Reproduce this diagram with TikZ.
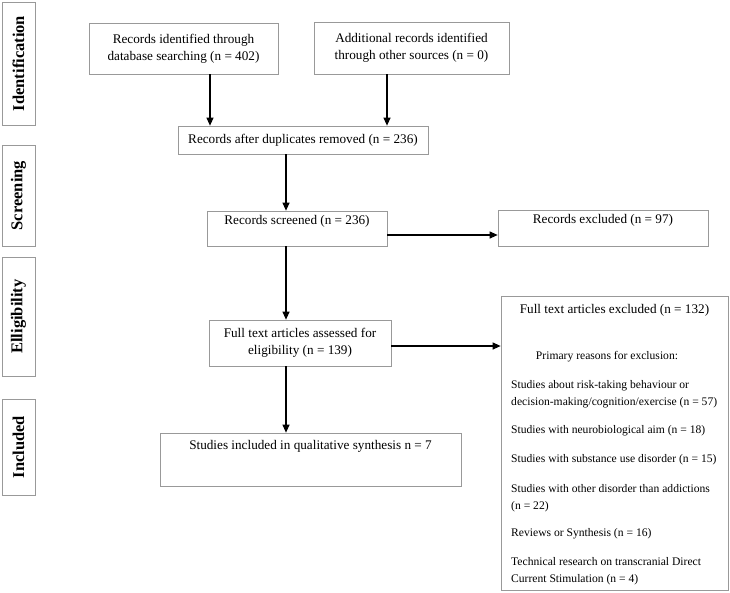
\documentclass[tikz,border=0pt]{standalone}
\usepackage{fontspec}
\setmainfont{Liberation Serif}
\usetikzlibrary{arrows.meta}

\begin{document}
\begin{tikzpicture}[x=1pt,y=-1pt,
  box/.style={draw=gray!80,line width=0.7pt,inner sep=4pt,align=center,font=\fontsize{13.2}{17}\selectfont},
  phase/.style={draw=gray!80,line width=0.7pt,minimum width=33pt,inner sep=0pt},
  phasetext/.style={rotate=90,font=\bfseries\fontsize{16.5}{16.5}\selectfont},
  reason/.style={anchor=west,inner sep=0pt,font=\fontsize{11.6}{17}\selectfont},
  arr/.style={-{Triangle[length=8pt,width=7pt]},line width=1.1pt}]
\useasboundingbox (0,0) rectangle (730,592);

% phases on the left
\node[phase,minimum height=123pt] (ident) at (18.5,63.5) {};
\node[phasetext] (identtxt) at (ident) {Identification};
\node[phase,minimum height=101pt] (screen) at (18.5,195.5) {};
\node[phasetext] (screentxt) at (screen) {Screening};
\node[phase,minimum height=119pt] (elig) at (18.5,316.5) {};
\node[phasetext] (eligtxt) at (elig) {Elligibility};
\node[phase,minimum height=96pt] (incl) at (18.5,447) {};
\node[phasetext] (incltxt) at (incl) {Included};

% main boxes
\node[box,minimum width=189pt,minimum height=51pt] (rec1) at (183.5,48.5) {Records identified through\\database searching (n = 402)};
\node[box,minimum width=195pt,minimum height=52pt] (rec2) at (411.5,48) {Additional records identified\\through other sources (n = 0)};
\node[box,minimum width=250pt,minimum height=28pt] (dup) at (303,140) {Records after duplicates removed (n = 236)};
\node[box,minimum width=180pt,text height=9pt,text depth=18pt] (scr) at (297,228.5) {Records screened (n = 236)};
\node[box,minimum width=210pt,text height=9pt,text depth=19pt] (excl1) at (603,228) {Records excluded (n = 97)};
\node[box,minimum width=182pt,minimum height=46pt] (full) at (300,343) {Full text articles assessed for\\eligibility (n = 139)};
\node[box,minimum width=301pt,text height=12pt,text depth=33pt] (studies) at (310.5,459.5) {Studies included in qualitative synthesis n = 7};
\node[box,minimum width=227pt,minimum height=294pt] (excl2) at (614.5,443) {};

% reasons for exclusion
\node[reason,anchor=center,font=\fontsize{13.2}{17}\selectfont] (r0) at (614.5,310) {Full text articles excluded (n = 132)};
\node[reason,anchor=center] (r1) at (607,357) {Primary reasons for exclusion:};
\node[reason,align=left] (r2) at (511,394.5) {Studies about risk-taking behaviour or\\decision-making/cognition/exercise (n = 57)};
\node[reason] (r3) at (511,431) {Studies with neurobiological aim (n = 18)};
\node[reason] (r4) at (511,460) {Studies with substance use disorder (n = 15)};
\node[reason,align=left] (r5) at (511,498) {Studies with other disorder than addictions\\(n = 22)};
\node[reason] (r6) at (511,534) {Reviews or Synthesis (n = 16)};
\node[reason,align=left] (r7) at (511,571.5) {Technical research on transcranial Direct\\Current Stimulation (n = 4)};

% arrows
\coordinate (colA) at (210,0);
\coordinate (colB) at (387,0);
\coordinate (axis) at (286,0);
\draw[arr] (rec1.south -| colA) -- (dup.north -| colA);
\draw[arr] (rec2.south -| colB) -- (dup.north -| colB);
\draw[arr] (dup.south -| axis) -- (scr.north -| axis);
\draw[arr] (scr.south -| axis) -- (full.north -| axis);
\draw[arr] (full.south -| axis) -- (studies.north -| axis);
\draw[arr] ([yshift=-6.5pt]scr.east) -- ([yshift=-6.5pt]scr.east -| excl1.west);
\draw[arr] ([yshift=-3pt]full.east) -- ([yshift=-3pt]full.east -| excl2.west);
\end{tikzpicture}
\end{document}
